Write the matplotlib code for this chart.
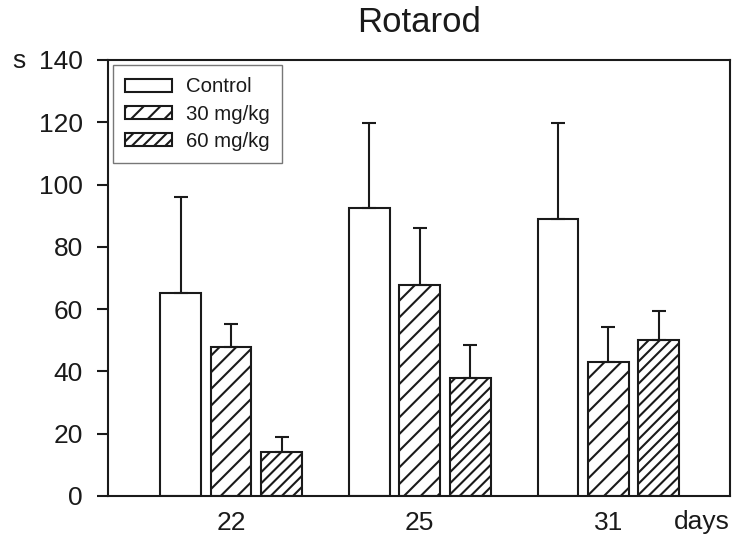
import numpy as np
import matplotlib
matplotlib.use("Agg")
import matplotlib.pyplot as plt

plt.rcParams["font.family"] = ["Liberation Sans", "DejaVu Sans"]
plt.rcParams["hatch.linewidth"] = 1.5
plt.rcParams["hatch.color"] = "#1a1a1a"

days = ["22", "25", "31"]
groups = ["Control", "30 mg/kg", "60 mg/kg"]
means = {
    "Control": [65.2, 92.4, 89.1],
    "30 mg/kg": [47.7, 67.9, 43.1],
    "60 mg/kg": [14.2, 37.8, 50.1],
}
errs = {
    "Control": [30.9, 27.5, 30.8],
    "30 mg/kg": [7.5, 18.3, 11.3],
    "60 mg/kg": [4.8, 10.7, 9.2],
}
hatches = {"Control": "", "30 mg/kg": "//", "60 mg/kg": "///"}

ink = "#1a1a1a"
fig = plt.figure(figsize=(7.32, 5.40), dpi=100)
ax = fig.add_axes([0.1475, 0.0815, 0.8498, 0.8074])

x = np.arange(len(days))
width = 0.217
step = 0.2675
for i, g in enumerate(groups):
    pos = x + (i - 1) * step
    ax.bar(pos, means[g], width, color="white", edgecolor=ink, linewidth=1.5,
           hatch=hatches[g], label=g, zorder=2)
    ax.errorbar(pos, means[g], yerr=[np.zeros(len(days)), errs[g]], fmt="none",
                ecolor=ink, elinewidth=1.5, capsize=5, capthick=1.5, zorder=3)

ax.set_xlim(-0.652, 2.644)
ax.set_ylim(0, 140)
ax.set_yticks(range(0, 141, 20))
ax.set_xticks(x)
ax.set_xticklabels(days)
ax.tick_params(axis="y", length=8, width=1.5, pad=10, labelsize=19, colors=ink)
ax.tick_params(axis="x", length=0, pad=11, labelsize=19, colors=ink)
for s in ax.spines.values():
    s.set_linewidth(1.5)
    s.set_color(ink)

ax.set_title("Rotarod", fontsize=25, pad=20, color=ink)
fig.text(0.026, 0.887, "s", fontsize=19, ha="center", va="center", color=ink)
fig.text(0.997, 0.033, "days", fontsize=19, ha="right", va="center", color=ink)

leg = ax.legend(loc="upper left", bbox_to_anchor=(0.0, 1.0), fontsize=14.7,
                frameon=True, fancybox=False, edgecolor="#555555",
                handlelength=2.3, handleheight=0.6, handletextpad=0.65,
                labelspacing=0.4, borderpad=0.6, borderaxespad=0.25)
leg.get_frame().set_linewidth(1.0)
for t in leg.get_texts():
    t.set_color(ink)

fig.savefig("out.png", dpi=100)
